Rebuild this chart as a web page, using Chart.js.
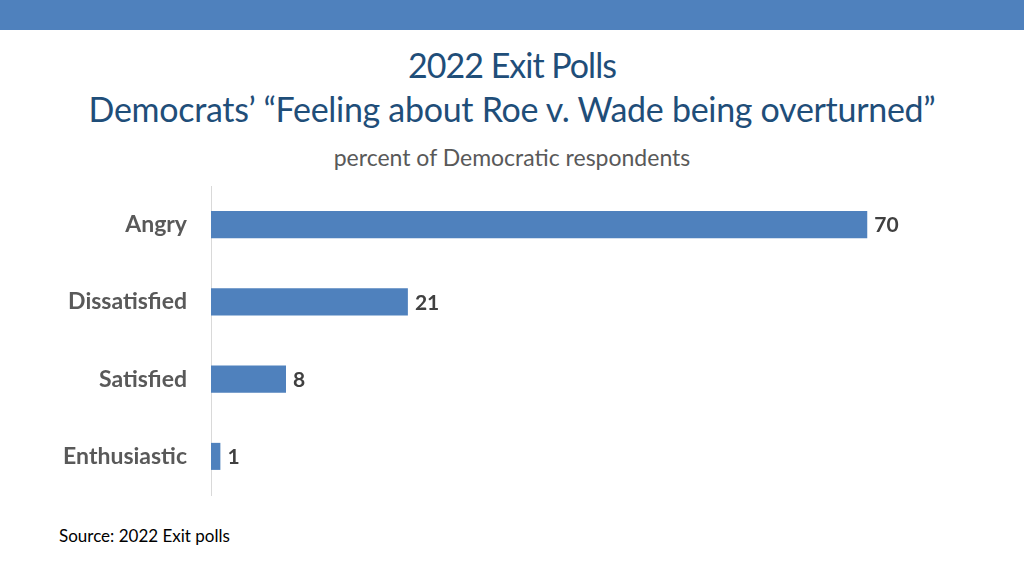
<!DOCTYPE html>
<html>
<head>
<meta charset="utf-8">
<script src="https://cdn.jsdelivr.net/npm/chart.js@4"></script>
<style>
  html, body { margin: 0; padding: 0; background: #fff; }
  body { width: 1024px; height: 576px; position: relative; overflow: hidden; font-family: Lato, "Open Sans", sans-serif; }
  #topbar { position: absolute; left: 0; top: 0; width: 1024px; height: 30px; background: #4f81bd; }
  .t { position: absolute; left: 0; width: 1024px; text-align: center; white-space: nowrap; }
  #title1 { top: 44px; font-size: 34px; color: #1f4e79; letter-spacing: -1px; }
  #title2 { top: 88px; font-size: 34px; color: #1f4e79; letter-spacing: -0.3px; }
  #sub { top: 143px; font-size: 23px; color: #595959; }
  #source { position: absolute; left: 59px; top: 525px; font-size: 17px; color: #000; }
  /* o eixo y acrescenta 36px em cima e em baixo (metade do rotulo + padding) */
  #wrap { position: absolute; left: 0; top: 150px; width: 1024px; height: 381px; }
</style>
</head>
<body>
<div id="topbar"></div>
<div class="t" id="title1">2022 Exit Polls</div>
<div class="t" id="title2">Democrats’ “Feeling about Roe v. Wade being overturned”</div>
<div class="t" id="sub">percent of Democratic respondents</div>
<div id="source">Source: 2022 Exit polls</div>
<div id="wrap"><canvas id="barChart" width="1024" height="381"></canvas></div>
<script>
// dados
const categories = ["Angry", "Dissatisfied", "Satisfied", "Enthusiastic"];
const values = [70, 21, 8, 1];

// rotulos no fim das barras
const valueLabels = {
  id: "valueLabels",
  afterDatasetsDraw(chart) {
    const ctx = chart.ctx;
    const meta = chart.getDatasetMeta(0);
    ctx.save();
    ctx.font = "bold 21px Lato, 'Open Sans', sans-serif";
    ctx.fillStyle = "#404040";
    ctx.textAlign = "left";
    ctx.textBaseline = "middle";
    meta.data.forEach((bar, i) => {
      ctx.fillText(values[i], bar.x + 7, bar.y + 1);
    });
    ctx.restore();
  }
};

let ctx = document.getElementById("barChart").getContext("2d");
let barChart = new Chart(ctx, {
  type: "bar",
  data: {
    labels: categories,
    datasets: [{
      data: values,
      backgroundColor: "#4f81bd",
      borderWidth: 0,
      barPercentage: 0.7,
      categoryPercentage: 0.5
    }]
  },
  options: {
    indexAxis: "y",
    responsive: false,
    animation: false,
    layout: { padding: { left: 0, right: 63, top: 0, bottom: 0 } },
    plugins: {
      legend: { display: false },
      tooltip: { enabled: false }
    },
    scales: {
      x: { display: false, min: 0, max: 80 },
      y: {
        grid: { display: false, drawTicks: false },
        border: { display: true, color: "#d9d9d9", width: 1 },
        ticks: {
          color: "#595959",
          font: { family: "Lato, 'Open Sans', sans-serif", size: 23, weight: "bold", lineHeight: 24 / 23 },
          padding: 24
        },
        afterFit(scale) { scale.width = 211; }
      }
    }
  },
  plugins: [valueLabels]
});
</script>
</body>
</html>
